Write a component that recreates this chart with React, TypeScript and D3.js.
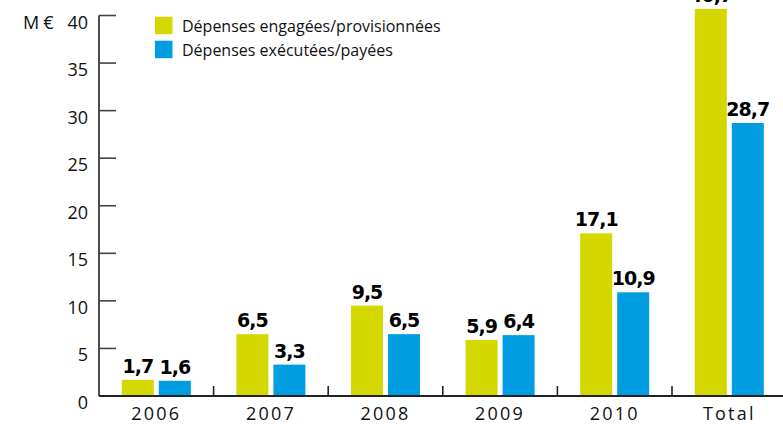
import { useEffect, useRef } from 'react';
import * as d3 from 'd3';

const categories = ['2006', '2007', '2008', '2009', '2010', 'Total'];
const engagees = [1.7, 6.5, 9.5, 5.9, 17.1, 40.7];
const executees = [1.6, 3.3, 6.5, 6.4, 10.9, 28.7];
const yTicks = [0, 5, 10, 15, 20, 25, 30, 35, 40];
const seriesNames = ['Dépenses engagées/provisionnées', 'Dépenses exécutées/payées'];
const colors = ['#d5d800', '#009ee0'];

const W = 783;
const H = 424;

function BarChart() {
  const svgRef = useRef<SVGSVGElement>(null);

  useEffect(() => {
    const svg = d3.select(svgRef.current);
    svg.selectAll('*').remove();

    const left = 99;
    const base = 396;
    const font = '"Open Sans", Lato, sans-serif';

    const x = d3.scaleBand().domain(categories).range([left, left + 6 * 114.6]);
    const y = d3.scaleLinear().domain([0, 40]).range([base, 15.5]);
    const barW = 32;
    const gap = 5;

    // y axis line + ticks
    svg.append('line')
      .attr('x1', left).attr('x2', left)
      .attr('y1', y(40)).attr('y2', base)
      .attr('stroke', '#222').attr('stroke-width', 1.6);

    svg.selectAll('.ytick')
      .data(yTicks.filter(d => d > 0))
      .enter()
      .append('line')
      .attr('x1', left).attr('x2', left + 17)
      .attr('y1', d => y(d)).attr('y2', d => y(d))
      .attr('stroke', '#444').attr('stroke-width', 1.6);

    svg.selectAll('.ylab')
      .data(yTicks)
      .enter()
      .append('text')
      .attr('x', 88)
      .attr('y', d => y(d) + 13)
      .attr('text-anchor', 'end')
      .attr('font-family', font)
      .attr('font-size', 18)
      .attr('fill', '#111')
      .text(d => d);

    svg.append('text')
      .attr('x', 23).attr('y', y(40) + 13)
      .attr('font-family', font)
      .attr('font-size', 18)
      .attr('letter-spacing', 4)
      .attr('fill', '#111')
      .text('M€');

    // bars
    const center = (c: string) => (x(c) as number) + x.bandwidth() / 2;

    svg.selectAll('.b1')
      .data(engagees)
      .enter()
      .append('rect')
      .attr('x', (d, i) => center(categories[i]) - gap / 2 - barW)
      .attr('y', d => y(d))
      .attr('width', barW)
      .attr('height', d => base - y(d))
      .attr('fill', colors[0]);

    svg.selectAll('.b2')
      .data(executees)
      .enter()
      .append('rect')
      .attr('x', (d, i) => center(categories[i]) + gap / 2)
      .attr('y', d => y(d))
      .attr('width', barW)
      .attr('height', d => base - y(d))
      .attr('fill', colors[1]);

    const fmt = (v: number) => v.toFixed(1).replace('.', ',');
    const labelStyle = (sel: any) => sel
      .attr('text-anchor', 'middle')
      .attr('font-family', '"DejaVu Sans", sans-serif')
      .attr('font-weight', 'bold')
      .attr('font-size', 19)
      .attr('letter-spacing', -1)
      .attr('fill', '#000');

    svg.selectAll('.l1')
      .data(engagees)
      .enter()
      .append('text')
      .attr('x', (d, i) => center(categories[i]) - gap / 2 - barW / 2)
      .attr('y', d => y(d) - 7)
      .call(labelStyle)
      .text(d => fmt(d));

    svg.selectAll('.l2')
      .data(executees)
      .enter()
      .append('text')
      .attr('x', (d, i) => center(categories[i]) + gap / 2 + barW / 2)
      .attr('y', d => y(d) - 7)
      .call(labelStyle)
      .text(d => fmt(d));

    // x axis
    svg.append('line')
      .attr('x1', left).attr('x2', W)
      .attr('y1', base).attr('y2', base)
      .attr('stroke', '#222').attr('stroke-width', 2);

    svg.selectAll('.sep')
      .data(categories.slice(1))
      .enter()
      .append('line')
      .attr('x1', d => x(d) as number).attr('x2', d => x(d) as number)
      .attr('y1', base - 10).attr('y2', base)
      .attr('stroke', '#222').attr('stroke-width', 1.6);

    svg.selectAll('.xlab')
      .data(categories)
      .enter()
      .append('text')
      .attr('x', d => center(d))
      .attr('y', 420)
      .attr('text-anchor', 'middle')
      .attr('font-family', font)
      .attr('font-size', 18)
      .attr('letter-spacing', 2.2)
      .attr('fill', '#111')
      .text(d => d);

    // legend
    const leg = svg.selectAll('.leg')
      .data(seriesNames)
      .enter()
      .append('g')
      .attr('transform', (d, i) => `translate(155,${16.7 + i * 24})`);

    leg.append('rect')
      .attr('width', 17.5).attr('height', 17.5)
      .attr('fill', (d, i) => colors[i]);

    leg.append('text')
      .attr('x', 27).attr('y', 15.5)
      .attr('font-family', font)
      .attr('font-size', 16)
      .attr('fill', '#111')
      .text(d => d);
  }, []);

  return (
    <svg ref={svgRef} width={W} height={H} viewBox={`0 0 ${W} ${H}`}
      style={{ position: 'absolute', top: 0, left: 0, display: 'block', background: '#fff' }} />
  );
}

export default function App() {
  return <BarChart />;
}
